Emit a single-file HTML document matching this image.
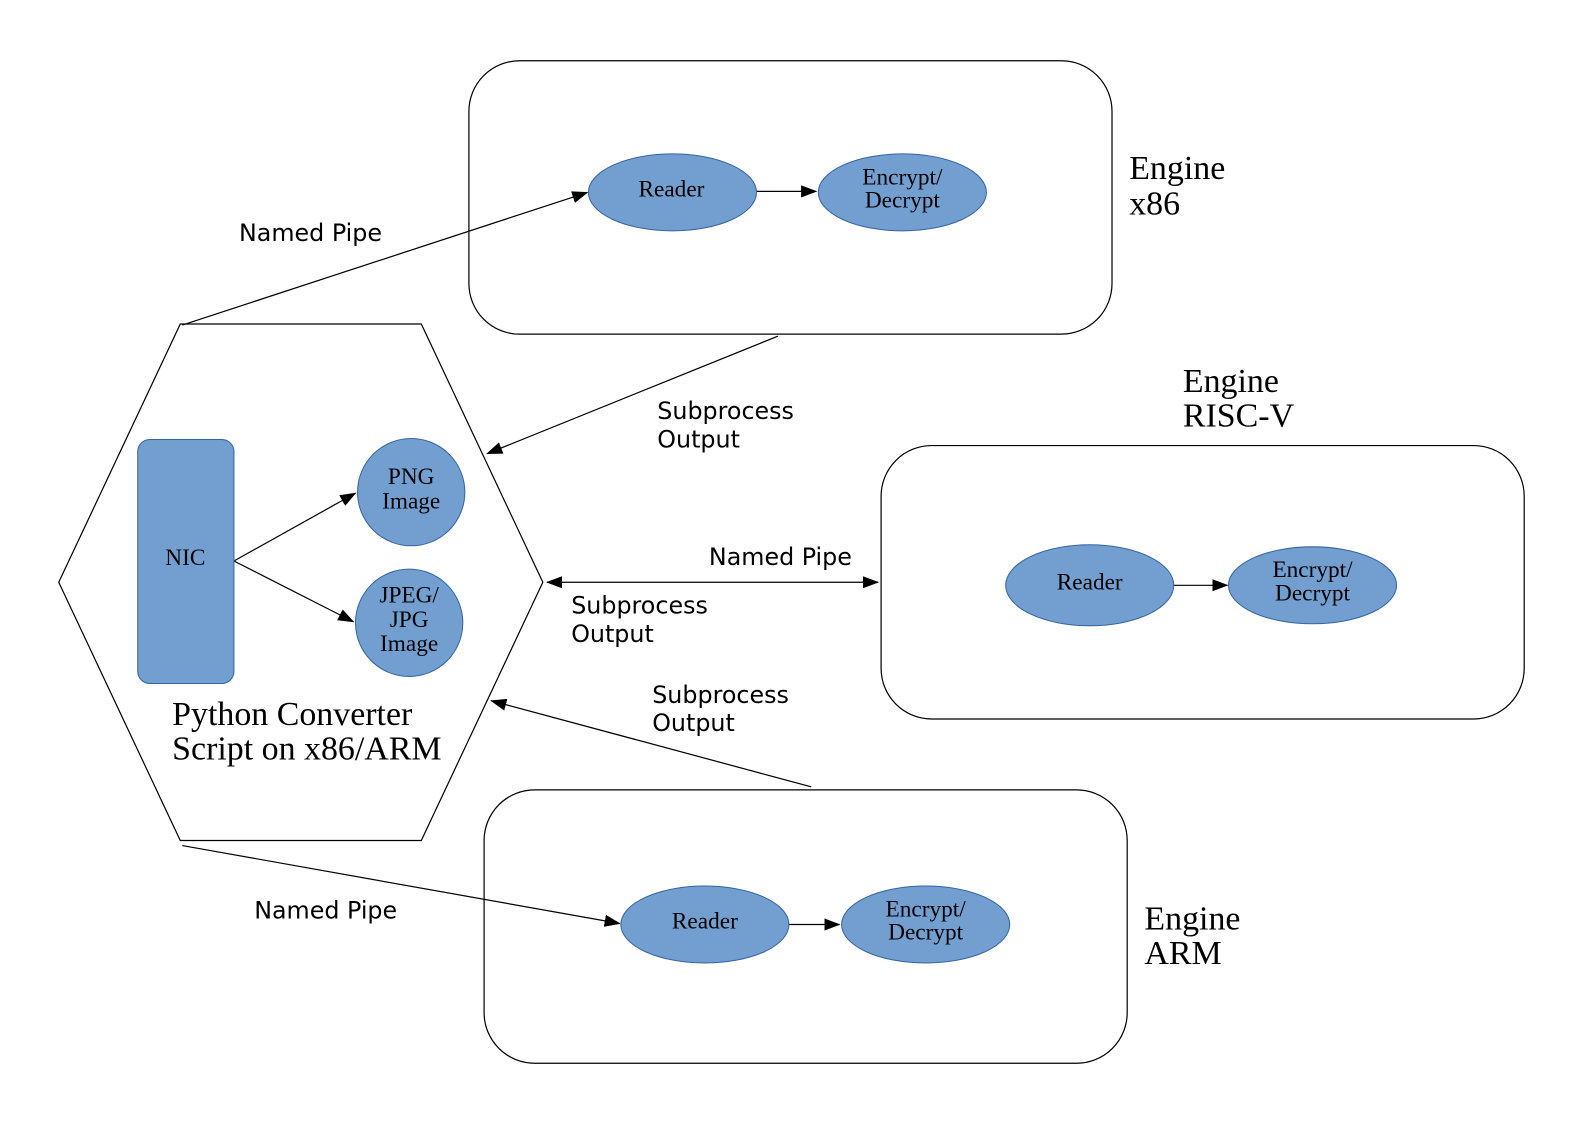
<!DOCTYPE html>
<html><head><style>html,body{margin:0;padding:0;background:#fff;overflow:hidden;width:1588px;height:1123px}svg{display:block}</style></head><body>
<svg width="1588" height="1123" viewBox="0 0 1568 1109" preserveAspectRatio="none" xmlns="http://www.w3.org/2000/svg">
<defs><marker id="a" markerWidth="16" markerHeight="12" refX="15" refY="6" orient="auto" markerUnits="userSpaceOnUse"><path d="M0,0 L16,6 L0,12 z" fill="#000"/></marker>
<marker id="b" markerWidth="16" markerHeight="12" refX="15" refY="6" orient="auto-start-reverse" markerUnits="userSpaceOnUse"><path d="M0,0 L16,6 L0,12 z" fill="#000"/></marker></defs>
<g fill="none" stroke="#000" stroke-width="1.2">
<rect x="463" y="60" width="635" height="270" rx="50"/>
<rect x="870" y="440" width="635" height="270" rx="50"/>
<rect x="478" y="780" width="635" height="270" rx="50"/>
<polygon points="178,320 416,320 536,575 416,830 178,830 58,575"/>
<line x1="180" y1="321" x2="580" y2="190" marker-end="url(#a)"/>
<line x1="768" y1="332" x2="481" y2="448" marker-end="url(#a)"/>
<line x1="540" y1="575" x2="867" y2="575" marker-start="url(#b)" marker-end="url(#b)"/>
<line x1="801" y1="777" x2="485" y2="692" marker-end="url(#a)"/>
<line x1="180" y1="835" x2="612" y2="912" marker-end="url(#a)"/>
<line x1="747" y1="189" x2="806" y2="189" marker-end="url(#a)"/>
<line x1="1159" y1="578" x2="1212" y2="578" marker-end="url(#a)"/>
<line x1="779" y1="913" x2="829" y2="913" marker-end="url(#a)"/>
<line x1="231" y1="554" x2="351" y2="487" marker-end="url(#a)"/>
<line x1="231" y1="554" x2="349" y2="614" marker-end="url(#a)"/>
</g>
<g fill="#729fcf" stroke="#3465a4" stroke-width="1">
<rect x="136" y="434" width="95" height="241" rx="12"/>
<circle cx="406" cy="486" r="53"/>
<circle cx="404" cy="615" r="53"/>
<ellipse cx="664" cy="190" rx="83" ry="38"/>
<ellipse cx="891" cy="190" rx="83" ry="38"/>
<ellipse cx="1076" cy="578" rx="83" ry="40"/>
<ellipse cx="1296" cy="578" rx="83" ry="38"/>
<ellipse cx="696" cy="913" rx="83" ry="38"/>
<ellipse cx="914" cy="913" rx="83" ry="38"/>
</g>
<g font-family="Liberation Serif, serif" font-size="23" text-anchor="middle" fill="#000">
<text x="183" y="558">NIC</text>
<text x="406" y="478">PNG</text><text x="406" y="502">Image</text>
<text x="404" y="595">JPEG/</text><text x="404" y="619">JPG</text><text x="404" y="643">Image</text>
<text x="663" y="194">Reader</text>
<text x="891" y="182">Encrypt/</text><text x="891" y="205">Decrypt</text>
<text x="1076" y="582">Reader</text>
<text x="1296" y="570">Encrypt/</text><text x="1296" y="593">Decrypt</text>
<text x="696" y="917">Reader</text>
<text x="914" y="905">Encrypt/</text><text x="914" y="928">Decrypt</text>
</g>
<g font-family="Liberation Serif, serif" font-size="33.5" fill="#000">
<text x="1115" y="177">Engine</text><text x="1115" y="212">x86</text>
<text x="1168" y="387">Engine</text><text x="1168" y="421">RISC-V</text>
<text x="1130" y="918">Engine</text><text x="1130" y="952">ARM</text>
<text x="170" y="716">Python Converter</text><text x="170" y="750">Script on x86/ARM</text>
</g>
<g font-family="DejaVu Sans, sans-serif" font-size="23.5" fill="#000">
<text x="236" y="238">Named Pipe</text>
<text x="649" y="414">Subprocess</text><text x="649" y="442">Output</text>
<text x="700" y="558">Named Pipe</text>
<text x="564" y="606">Subprocess</text><text x="564" y="634">Output</text>
<text x="644" y="694">Subprocess</text><text x="644" y="722">Output</text>
<text x="251" y="907">Named Pipe</text>
</g>
</svg>
</body></html>
